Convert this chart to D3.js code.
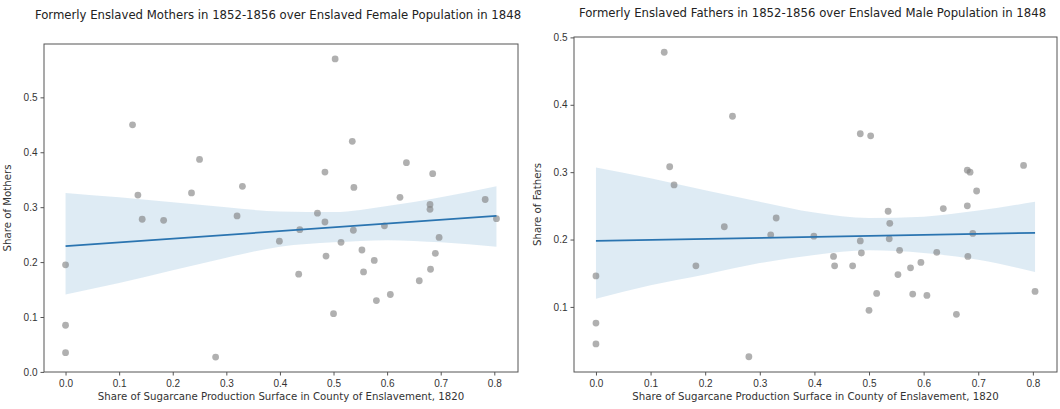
<!DOCTYPE html>
<html>
<head>
<meta charset="utf-8">
<script src="https://cdn.jsdelivr.net/npm/d3@7"></script>
<style>
	body { margin: 0; background: #fff; }
	svg { font-family: "DejaVu Sans", sans-serif; }
	.tick text { fill: #333; font-size: 10px; }
	.tick line, .domain { stroke: #555; }
</style>
</head>
<body>
<div id="my_dataviz"></div>
<script>
// share of sugarcane surface per county (x), same counties in both panels
const sugarShare = [0, 0, 0, 0.125, 0.135, 0.143, 0.183, 0.235, 0.250, 0.280, 0.320, 0.330, 0.399, 0.435,
	0.437, 0.470, 0.484, 0.484, 0.486, 0.500, 0.503, 0.514, 0.535, 0.537, 0.538, 0.553, 0.556, 0.576,
	0.580, 0.595, 0.606, 0.624, 0.636, 0.660, 0.680, 0.680, 0.681, 0.685, 0.690, 0.697, 0.783, 0.804];
const mothers = [0.195, 0.085, 0.035, 0.450, 0.322, 0.278, 0.276, 0.326, 0.387, 0.027, 0.284, 0.338, 0.238, 0.178,
	0.259, 0.289, 0.364, 0.273, 0.211, 0.106, 0.570, 0.236, 0.420, 0.258, 0.336, 0.222, 0.182, 0.203,
	0.130, 0.266, 0.141, 0.318, 0.381, 0.166, 0.305, 0.296, 0.187, 0.361, 0.216, 0.245, 0.314, 0.279];
const fathers = [0.146, 0.076, 0.045, 0.478, 0.308, 0.281, 0.161, 0.219, 0.383, 0.026, 0.207, 0.232, 0.205, 0.175,
	0.161, 0.161, 0.357, 0.198, 0.180, 0.095, 0.354, 0.120, 0.242, 0.201, 0.224, 0.148, 0.184, 0.158,
	0.119, 0.166, 0.117, 0.181, 0.246, 0.089, 0.303, 0.250, 0.175, 0.300, 0.209, 0.272, 0.310, 0.123];

// regression line ends and confidence band
const fitX = [0, 0.804];
const mothersFit = [0.229, 0.284];
const fathersFit = [0.198, 0.210];
const bandX = [0, 0.1, 0.2, 0.3, 0.4, 0.5, 0.6, 0.7, 0.804];
const mothersHigh = [0.326, 0.318, 0.309, 0.300, 0.292, 0.291, 0.302, 0.318, 0.338];
const mothersLow = [0.141, 0.162, 0.185, 0.208, 0.228, 0.236, 0.240, 0.236, 0.228];
const fathersHigh = [0.307, 0.291, 0.273, 0.256, 0.240, 0.232, 0.234, 0.243, 0.256];
const fathersLow = [0.112, 0.132, 0.148, 0.165, 0.177, 0.184, 0.180, 0.170, 0.152];

const xTicks = [0, 0.1, 0.2, 0.3, 0.4, 0.5, 0.6, 0.7, 0.8];
const mothersTicks = [0, 0.1, 0.2, 0.3, 0.4, 0.5];
const fathersTicks = [0.1, 0.2, 0.3, 0.4, 0.5];

var svg = d3
	.select("#my_dataviz")
	.append("svg")
	.attr("width", 1060)
	.attr("height", 409);

function pad(vals) {
	var ext = d3.extent(vals);
	var p = (ext[1] - ext[0]) * 0.05;
	return [ext[0] - p, ext[1] + p];
}

function drawPanel(opt) {
	var x = d3.scaleLinear().domain(pad(sugarShare)).range([opt.left, opt.right]);
	var y = d3.scaleLinear().domain(pad(opt.ys)).range([opt.bottom, opt.top]);
	var g = svg.append("g");

	// confidence band
	var area = d3.area()
		.x(function (d, i) { return x(bandX[i]); })
		.y0(function (d, i) { return y(opt.low[i]); })
		.y1(function (d, i) { return y(opt.high[i]); })
		.curve(d3.curveMonotoneX);
	g.append("path")
		.datum(bandX)
		.attr("d", area)
		.attr("fill", "#1f77b4")
		.attr("fill-opacity", 0.15);

	// dots
	g.selectAll("circle")
		.data(opt.ys)
		.enter()
		.append("circle")
		.attr("cx", function (d, i) { return x(sugarShare[i]); })
		.attr("cy", function (d) { return y(d); })
		.attr("r", 3.4)
		.attr("fill", "#808080")
		.attr("fill-opacity", 0.62);

	// fit line
	g.append("path")
		.datum(fitX)
		.attr("d", d3.line()
			.x(function (d) { return x(d); })
			.y(function (d, i) { return y(opt.fit[i]); }))
		.attr("fill", "none")
		.attr("stroke", "#2a74b0")
		.attr("stroke-width", 1.8);

	// frame
	g.append("rect")
		.attr("x", opt.left)
		.attr("y", opt.top)
		.attr("width", opt.right - opt.left)
		.attr("height", opt.bottom - opt.top)
		.attr("fill", "none")
		.attr("stroke", "#555")
		.attr("stroke-width", 1);

	// axes
	g.append("g")
		.attr("transform", "translate(0," + opt.bottom + ")")
		.call(d3.axisBottom(x).tickValues(xTicks).tickFormat(d3.format(".1f")).tickSize(3.5).tickSizeOuter(0))
		.call(function (a) { a.select(".domain").remove(); })
		.selectAll("text").attr("dy", "0.85em");
	g.append("g")
		.attr("transform", "translate(" + opt.left + ",0)")
		.call(d3.axisLeft(y).tickValues(opt.ticks).tickFormat(d3.format(".1f")).tickSize(3.5).tickSizeOuter(0))
		.call(function (a) { a.select(".domain").remove(); });

	// labels
	g.append("text")
		.attr("x", (opt.left + opt.right) / 2 - 3)
		.attr("y", opt.titleY)
		.attr("text-anchor", "middle")
		.attr("font-size", "11.7px")
		.attr("fill", "#222")
		.text(opt.title);
	g.append("text")
		.attr("x", (opt.left + opt.right) / 2)
		.attr("y", 400)
		.attr("text-anchor", "middle")
		.attr("font-size", "10.2px")
		.attr("fill", "#333")
		.text("Share of Sugarcane Production Surface in County of Enslavement, 1820");
	g.append("text")
		.attr("transform", "translate(" + (opt.left - 33) + "," + (opt.top + opt.bottom) / 2 + ") rotate(-90)")
		.attr("text-anchor", "middle")
		.attr("font-size", "10.2px")
		.attr("fill", "#333")
		.text(opt.ylabel);
}

drawPanel({
	left: 44, right: 518, top: 44, bottom: 372,
	ys: mothers, fit: mothersFit, high: mothersHigh, low: mothersLow,
	ticks: mothersTicks, titleY: 19,
	title: "Formerly Enslaved Mothers in 1852-1856 over Enslaved Female Population in 1848",
	ylabel: "Share of Mothers"
});

drawPanel({
	left: 574, right: 1057, top: 37, bottom: 372,
	ys: fathers, fit: fathersFit, high: fathersHigh, low: fathersLow,
	ticks: fathersTicks, titleY: 17,
	title: "Formerly Enslaved Fathers in 1852-1856 over Enslaved Male Population in 1848",
	ylabel: "Share of Fathers"
});
</script>
</body>
</html>
